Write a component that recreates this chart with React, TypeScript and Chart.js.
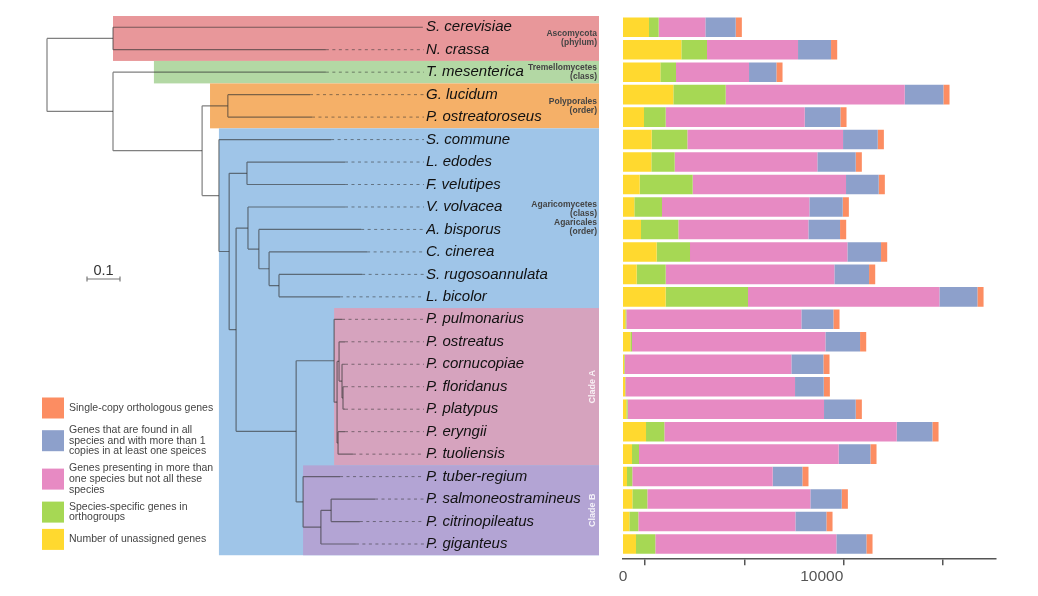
import React, { useEffect, useRef } from "react";
import { Chart, registerables } from "chart.js";

Chart.register(...registerables);

const FONT = "'Liberation Sans', Arial, Helvetica, sans-serif";

// ---------- categories ----------
const species = [
  "S. cerevisiae", "N. crassa", "T. mesenterica", "G. lucidum", "P. ostreatoroseus",
  "S. commune", "L. edodes", "F. velutipes", "V. volvacea", "A. bisporus",
  "C. cinerea", "S. rugosoannulata", "L. bicolor", "P. pulmonarius", "P. ostreatus",
  "P. cornucopiae", "P. floridanus", "P. platypus", "P. eryngii", "P. tuoliensis",
  "P. tuber-regium", "P. salmoneostramineus", "P. citrinopileatus", "P. giganteus",
];

// ---------- series values (gene counts) ----------
const unassigned = [1308, 2936, 1879, 2533, 1057, 1443, 1426, 839, 570, 906, 1694, 688, 2147, 117, 369, 50, 101, 168, 1158, 453, 201, 470, 319, 654];
const speciesSpecific = [487, 1292, 789, 2634, 1091, 1795, 1174, 2667, 1393, 1879, 1678, 1460, 4144, 50, 84, 34, 17, 67, 923, 352, 268, 755, 453, 973];
const multiSpecies = [2349, 4580, 3674, 9009, 6996, 7835, 7180, 7717, 7415, 6543, 7919, 8489, 9630, 8808, 9731, 8388, 8539, 9881, 11693, 10049, 7063, 8204, 7902, 9110];
const allSpeciesMulti = [1527, 1661, 1376, 1946, 1795, 1745, 1929, 1644, 1678, 1594, 1694, 1745, 1913, 1611, 1745, 1611, 1443, 1594, 1795, 1594, 1493, 1577, 1560, 1510];
const singleCopy = [310, 310, 310, 310, 310, 310, 310, 310, 310, 310, 310, 310, 310, 310, 310, 310, 310, 310, 310, 310, 310, 310, 310, 310];

const seriesValues = [unassigned, speciesSpecific, multiSpecies, allSpeciesMulti, singleCopy];
const seriesLabels = [
  ["Number of unassigned genes"],
  ["Species-specific genes in", "orthogroups"],
  ["Genes presenting in more than", "one species but not all these", "species"],
  ["Genes that are found in all", "species and with more than 1", "copies in at least one speices"],
  ["Single-copy orthologous genes"],
];
const seriesColors = ["#ffd92f", "#a6d854", "#e78ac3", "#8da0cb", "#fc8d62"];

// ---------- axis ticks ----------
const xTickMarks = [0, 5000, 10000, 15000];
const xTickLabels = [0, 10000];
const X_MAX = 18770;
const TICK_SHIFT = 1107;

// ---------- phylogeny (distances from root) ----------
const leafDepths = [1.139, 0.845, 0.845, 0.797, 0.803, 0.861, 0.903, 0.903, 0.903, 0.952, 0.97, 0.955, 0.888, 0.894, 0.903, 0.903, 0.903, 0.903, 0.903, 0.927, 0.888, 0.994, 0.948, 0.936];
type TNode = number | [number, TNode[]];
const treeTopology: TNode = [0, [
  [0.2, [0, 1]],
  [0.2, [2, [0.47, [
    [0.548, [3, 4]],
    [0.521, [5, [0.552, [
      [0.606, [6, 7]],
      [0.573, [
        [0.609, [8, [0.642, [9, [0.673, [10, [0.703, [11, 12]]]]]]]],
        [0.755, [
          [0.87, [13, [0.879, [[0.885, [14, [0.894, [15, [0.897, [16, 17]]]]]], [0.882, [18, 19]]]]]],
          [0.776, [20, [0.83, [[0.861, [21, 22]], 23]]]],
        ]],
      ]],
    ]]]],
  ]]]],
]];
const scaleBarValue = 0.1;

// ---------- taxonomic groups ----------
const bandNames = [["Ascomycota", "(phylum)"], ["Tremellomycetes", "(class)"], ["Polyporales", "(order)"], ["Agaricomycetes", "(class)", "Agaricales", "(order)"], ["Clade A"], ["Clade B"]];
const bandRows = [[0, 1], [2, 2], [3, 4], [5, 23], [13, 19], [20, 23]];
const bandLabelRows = [[0, 1], [2, 2], [3, 4], [5, 12], [13, 19], [20, 23]];
const bandDepths = [0.2, 0.324, 0.494, 0.521, 0.87, 0.776];
const bandColors = ["#e8979a", "#b3d8a4", "#f5b068", "#9fc5e8", "#d6a3be", "#b3a4d4"];
const bandVertical = [false, false, false, false, true, true];

// layout constants
const ROOT_X = 47;
const UNIT_PX = 330;

function drawTree(ctx: CanvasRenderingContext2D, node: TNode, tx: (d: number) => number, rowY: (i: number) => number, labelX: number): { x: number; y: number } {
  if (typeof node === "number") {
    const x = tx(leafDepths[node]);
    const y = rowY(node);
    if (labelX - 2 - x > 2) {
      ctx.save();
      ctx.setLineDash([3, 3.5]);
      ctx.strokeStyle = "rgba(50,50,50,0.55)";
      ctx.lineWidth = 1;
      ctx.beginPath();
      ctx.moveTo(x, y);
      ctx.lineTo(labelX - 2, y);
      ctx.stroke();
      ctx.restore();
    }
    return { x, y };
  }
  const [d, kids] = node;
  const pts = kids.map((k) => drawTree(ctx, k, tx, rowY, labelX));
  const x = tx(d);
  const y = (pts[0].y + pts[pts.length - 1].y) / 2;
  ctx.beginPath();
  ctx.moveTo(x, pts[0].y);
  ctx.lineTo(x, pts[pts.length - 1].y);
  pts.forEach((p) => {
    ctx.moveTo(x, p.y);
    ctx.lineTo(p.x, p.y);
  });
  ctx.stroke();
  return { x, y };
}

const treePlugin = {
  id: "treePlugin",
  beforeDraw(chart: any) {
    const ctx: CanvasRenderingContext2D = chart.ctx;
    const ys = chart.scales.y;
    const area = chart.chartArea;
    const rowY = (i: number) => ys.getPixelForValue(i);
    const half = (rowY(1) - rowY(0)) / 2;
    const tx = (d: number) => ROOT_X + d * UNIT_PX;
    const bandRight = area.left - 24;
    const labelX = ys.left;
    ctx.save();
    // bands
    bandRows.forEach(([r0, r1], k) => {
      const x0 = tx(bandDepths[k]);
      ctx.fillStyle = bandColors[k];
      ctx.fillRect(x0, rowY(r0) - half, bandRight - x0, rowY(r1) - rowY(r0) + 2 * half);
    });
    // tree
    ctx.strokeStyle = "rgba(50,50,50,0.62)";
    ctx.lineWidth = 1.2;
    drawTree(ctx, treeTopology, tx, rowY, labelX);
    // band labels
    bandNames.forEach((lines, k) => {
      const [a, b] = bandLabelRows[k];
      const cy = (rowY(a) + rowY(b)) / 2;
      if (bandVertical[k]) {
        ctx.save();
        ctx.translate(bandRight - 6, cy);
        ctx.rotate(-Math.PI / 2);
        ctx.fillStyle = "rgba(255,255,255,0.85)";
        ctx.font = `bold 9px ${FONT}`;
        ctx.textAlign = "center";
        ctx.textBaseline = "middle";
        ctx.fillText(lines[0], 0, 0);
        ctx.restore();
      } else {
        ctx.fillStyle = "#444";
        ctx.font = `bold 8.5px ${FONT}`;
        ctx.textAlign = "right";
        ctx.textBaseline = "middle";
        const lh = 8.8;
        lines.forEach((t, i) => {
          ctx.fillText(t, bandRight - 2, cy + (i - (lines.length - 1) / 2) * lh);
        });
      }
    });
    // scale bar
    const sbX = 87;
    const sbY = 279;
    const sbLen = scaleBarValue * UNIT_PX;
    ctx.strokeStyle = "#777";
    ctx.lineWidth = 1.2;
    ctx.beginPath();
    ctx.moveTo(sbX, sbY);
    ctx.lineTo(sbX + sbLen, sbY);
    ctx.moveTo(sbX, sbY - 2.5);
    ctx.lineTo(sbX, sbY + 2.5);
    ctx.moveTo(sbX + sbLen, sbY - 2.5);
    ctx.lineTo(sbX + sbLen, sbY + 2.5);
    ctx.stroke();
    ctx.fillStyle = "#333";
    ctx.font = `14.5px ${FONT}`;
    ctx.textAlign = "center";
    ctx.textBaseline = "alphabetic";
    ctx.fillText(String(scaleBarValue), sbX + sbLen / 2, sbY - 4.5);
    // legend (reverse of stack order)
    const lx = 42;
    const lh = 10.8;
    const gap = 6;
    let cy = 408;
    let prevH = 0;
    for (let k = seriesLabels.length - 1; k >= 0; k--) {
      const lines = seriesLabels[k];
      const h = Math.max(21, lines.length * lh);
      if (prevH) cy += prevH / 2 + h / 2 + gap;
      prevH = h;
      ctx.fillStyle = seriesColors[k];
      ctx.fillRect(lx, cy - 10.5, 22, 21);
      ctx.fillStyle = "#444";
      ctx.font = `10.5px ${FONT}`;
      ctx.textAlign = "left";
      ctx.textBaseline = "middle";
      lines.forEach((t, i) => {
        ctx.fillText(t, lx + 27, cy + (i - (lines.length - 1) / 2) * lh);
      });
    }
    ctx.restore();
  },
};

export default function App() {
  const ref = useRef<HTMLCanvasElement>(null);
  useEffect(() => {
    const chart = new Chart(ref.current as HTMLCanvasElement, {
      type: "bar",
      data: {
        labels: species,
        datasets: seriesValues.map((vals, k) => ({
          label: seriesLabels[k].join(" "),
          data: vals,
          xAxisID: "x",
          yAxisID: "y",
          backgroundColor: seriesColors[k],
          borderWidth: 0,
          barPercentage: 0.87,
          categoryPercentage: 1,
        })),
      },
      options: {
        indexAxis: "y",
        animation: false,
        responsive: true,
        maintainAspectRatio: false,
        layout: { padding: { left: 426, right: 42, top: 16, bottom: 6.76 } },
        plugins: { legend: { display: false }, tooltip: { enabled: false } },
        scales: {
          x: {
            type: "linear",
            stacked: true,
            position: "bottom",
            weight: 1,
            min: 0,
            max: X_MAX,
            grid: { display: false, drawTicks: false },
            border: { display: false },
            afterBuildTicks: (s: any) => { s.ticks = xTickLabels.map((v) => ({ value: v })); },
            afterFit: (s: any) => { s.height = 24; },
            ticks: {
              padding: 2,
              color: "#555",
              font: { family: FONT, size: 15.5 },
              callback: (v: any) => String(v),
            },
          },
          y: {
            type: "category",
            stacked: true,
            grid: { display: false },
            border: { display: false },
            afterFit: (s: any) => { s.width = 197; },
            ticks: {
              autoSkip: false,
              crossAlign: "far",
              padding: 0,
              color: "#111",
              font: { family: FONT, size: 15, style: "italic" },
            },
          },
          gap: {
            type: "linear",
            axis: "x",
            position: "bottom",
            weight: -1,
            grid: { display: false, drawTicks: false },
            border: { display: false },
            ticks: { display: false },
            afterFit: (s: any) => { s.height = 4; },
          },
          xt: {
            type: "linear",
            axis: "x",
            position: "bottom",
            weight: 0,
            min: -TICK_SHIFT,
            max: X_MAX - TICK_SHIFT,
            afterBuildTicks: (s: any) => { s.ticks = xTickMarks.map((v) => ({ value: v })); },
            afterFit: (s: any) => { s.height = 6; },
            grid: { drawOnChartArea: false, drawTicks: true, tickLength: 6, color: "#555", lineWidth: 1.5 },
            border: { display: true, color: "#555", width: 1.5 },
            ticks: { display: false },
          },
        },
      } as any,
      plugins: [treePlugin],
    });
    return () => chart.destroy();
  }, []);
  return (
    <div style={{ position: "fixed", left: 0, top: 0, width: 1038, height: 596, background: "#fff" }}>
      <canvas ref={ref} />
    </div>
  );
}
